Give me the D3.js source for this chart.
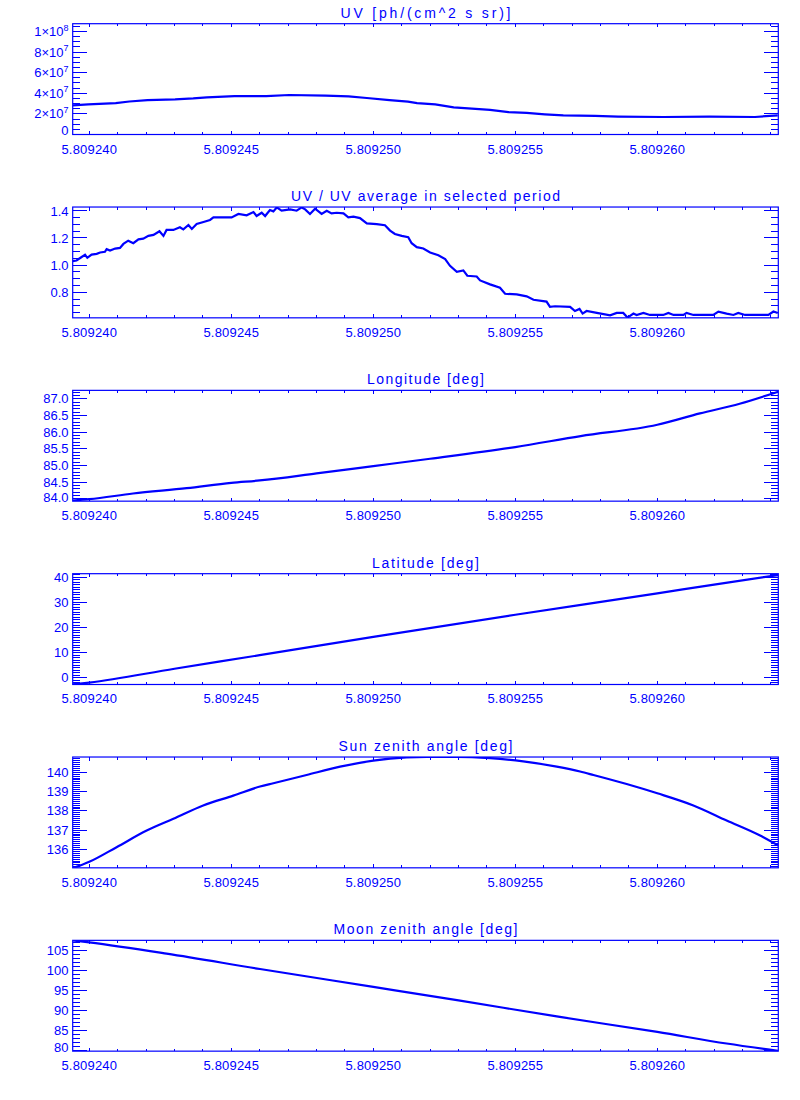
<!DOCTYPE html>
<html><head><meta charset="utf-8">
<script src="https://cdn.jsdelivr.net/npm/d3@7"></script>
<style>
body{margin:0;background:#fff}
text{font-family:"Liberation Sans",Arial,sans-serif;fill:#0000ff}
</style>
</head><body>
<svg id="c" width="800" height="1100"></svg>
<script>
// ---- data ----
// x values are offsets (units of 1e-6) from T0
const T0 = 5.809240;
const xDomainOffsets = [-0.585, 24.26];
const xMajorOffsets = [0, 5, 10, 15, 20];
const xTickLabels = ["5.809240", "5.809245", "5.809250", "5.809255", "5.809260"];

const titles = [
  "UV [ph/(cm^2 s sr)]",
  "UV / UV average in selected period",
  "Longitude [deg]",
  "Latitude [deg]",
  "Sun zenith angle [deg]",
  "Moon zenith angle [deg]"
];

const uvT = [-0.59,-0.04,0.93,1.41,2.05,3.02,3.66,4.14,5.11,6.23,7.04,8.32,9.13,9.77,10.57,11.22,11.54,12.18,12.83,13.47,14.11,14.76,15.40,16.04,16.69,17.81,18.62,20.22,21.83,23.44,24.24];
const uvVal = [2.83e7,2.92e7,3.05e7,3.20e7,3.34e7,3.41e7,3.50e7,3.60e7,3.73e7,3.73e7,3.83e7,3.77e7,3.70e7,3.54e7,3.34e7,3.19e7,3.05e7,2.92e7,2.64e7,2.51e7,2.38e7,2.18e7,2.09e7,1.96e7,1.86e7,1.80e7,1.74e7,1.70e7,1.74e7,1.70e7,1.86e7];

const ratioT = [-0.59,-0.45,-0.27,-0.15,-0.07,0.08,0.26,0.38,0.55,0.61,0.73,0.91,1.08,1.20,1.37,1.55,1.73,1.90,2.08,2.26,2.47,2.61,2.72,2.96,3.19,3.31,3.49,3.61,3.78,4.02,4.25,4.37,4.60,5.01,5.25,5.54,5.78,5.89,6.07,6.19,6.36,6.48,6.60,6.77,7.07,7.30,7.48,7.60,7.77,7.95,8.18,8.36,8.53,8.71,8.95,9.12,9.30,9.53,9.77,10.12,10.41,10.59,10.76,11.00,11.23,11.35,11.53,11.76,12.00,12.29,12.53,12.70,12.94,13.17,13.31,13.64,13.76,14.11,14.46,14.64,15.05,15.40,15.64,16.10,16.22,16.40,16.93,17.10,17.26,17.37,17.51,17.87,18.34,18.57,18.80,18.95,19.16,19.27,19.51,19.74,20.21,20.39,20.57,20.92,21.03,21.27,21.97,22.15,22.44,22.68,22.85,23.09,23.91,24.09,24.24];
const ratioVal = [1.029,1.034,1.060,1.076,1.054,1.078,1.083,1.093,1.098,1.117,1.107,1.122,1.127,1.156,1.180,1.161,1.190,1.195,1.215,1.222,1.249,1.215,1.259,1.259,1.278,1.263,1.295,1.266,1.302,1.317,1.332,1.351,1.351,1.351,1.376,1.366,1.390,1.361,1.385,1.361,1.405,1.395,1.424,1.400,1.410,1.400,1.424,1.410,1.376,1.415,1.376,1.400,1.380,1.385,1.380,1.351,1.356,1.346,1.307,1.302,1.293,1.254,1.229,1.215,1.205,1.161,1.132,1.122,1.093,1.073,1.044,0.995,0.951,0.961,0.922,0.917,0.888,0.859,0.834,0.790,0.785,0.771,0.746,0.732,0.693,0.698,0.693,0.663,0.678,0.644,0.663,0.649,0.632,0.649,0.649,0.615,0.644,0.634,0.649,0.634,0.634,0.649,0.634,0.634,0.649,0.634,0.634,0.659,0.644,0.634,0.649,0.634,0.634,0.659,0.649];

const lonT = [-0.59,0,1.54,3.43,5,6,8,10,12,15,17.3,20,21.5,22.9,24.26];
const lonVal = [83.95,83.99,84.16,84.32,84.48,84.55,84.76,84.98,85.20,85.55,85.88,86.22,86.56,86.85,87.21];

const latT = [-0.59,0,3,6,10,15,20,22,24.26];
const latVal = [-2.6,-1.9,3.6,9.0,16.3,25.1,33.6,37.1,40.9];

const sunT = [-0.59,0,0.96,2.02,2.96,4.01,5.07,6.01,6.48,7.65,8.83,10,11.17,11.88,12.94,14.11,15.28,16.46,17.28,17.75,18.92,20,21.27,22.44,23.62,24.26];
const sunVal = [135.02,135.36,136.12,136.98,137.59,138.28,138.79,139.26,139.43,139.86,140.29,140.60,140.77,140.80,140.80,140.73,140.56,140.29,140.04,139.86,139.39,138.91,138.28,137.50,136.72,136.20];

const moonT = [-0.59,0,2.72,6.01,10,13,16.57,20,22.44,24.26];
const moonVal = [107.6,107.08,104.25,100.4,95.9,92.5,88.35,84.58,81.67,79.8];

// y axes: domains, major ticks, labels, minor step
const yDomains = [[0,1.075e8],[0.613,1.427],[83.93,87.25],[-2.68,41.44],[135.05,140.79],[79.75,107.6]];
const yMajors = [
  [0,2e7,4e7,6e7,8e7,1e8],
  [0.8,1.0,1.2,1.4],
  [84.0,84.5,85.0,85.5,86.0,86.5,87.0],
  [0,10,20,30,40],
  [136,137,138,139,140],
  [80,85,90,95,100,105]
];
const yLabels = [
  ["0","2×10^7","4×10^7","6×10^7","8×10^7","1×10^8"],
  ["0.8","1.0","1.2","1.4"],
  ["84.0","84.5","85.0","85.5","86.0","86.5","87.0"],
  ["0","10","20","30","40"],
  ["136","137","138","139","140"],
  ["80","85","90","95","100","105"]
];
const yMinorSteps = [5e6, 0.05, 0.1, 1, 0.1, 1];
const seriesT = [uvT, ratioT, lonT, latT, sunT, moonT];
const seriesV = [uvVal, ratioVal, lonVal, latVal, sunVal, moonVal];

// ---- layout / style ----
const BLUE = "#0000ff";
const L = 72.7, R = 778.3, TOP0 = 23.7, STEP = 183.33, H = 110.8;
const titleWidths = [170, 269, 117, 107, 174, 184];
const smoothPanel = [false, false, true, true, true, true];

const svg = d3.select("#c");
svg.append("rect").attr("width",800).attr("height",1100).attr("fill","#fff");

const x = d3.scaleLinear().domain(xDomainOffsets).range([L, R]);
const xMinor = d3.range(0, 25);

function minorVals(dom, step){
  const a = Math.ceil(dom[0]/step - 1e-9), b = Math.floor(dom[1]/step + 1e-9);
  const out = [];
  for (let k = a; k <= b; k++) out.push(+(k*step).toPrecision(10));
  return out;
}

titles.forEach((title, i) => {
  const top = TOP0 + i*STEP, bot = top + H;
  const y = d3.scaleLinear().domain(yDomains[i]).range([bot, top]);
  const g = svg.append("g");
  const clipId = "clip"+i;
  svg.append("clipPath").attr("id", clipId).append("rect")
    .attr("x", L).attr("y", top).attr("width", R-L).attr("height", H);

  // data line
  const pts = seriesT[i].map((t, k) => [t, seriesV[i][k]]).filter(p => p[1] !== undefined);
  const line = d3.line().x(d => x(d[0])).y(d => y(d[1]));
  if (smoothPanel[i]) line.curve(d3.curveMonotoneX);
  g.append("path").datum(pts)
    .attr("clip-path", `url(#${clipId})`)
    .attr("fill","none").attr("stroke",BLUE).attr("stroke-width",2.2)
    .attr("d", line);

  // frame
  g.append("rect").attr("x",L).attr("y",top).attr("width",R-L).attr("height",H)
    .attr("fill","none").attr("stroke",BLUE).attr("stroke-width",1.2);

  const tickG = g.append("g").attr("stroke",BLUE).attr("stroke-width",1).attr("shape-rendering","crispEdges");
  // x ticks (top & bottom)
  xMinor.forEach(t => {
    const major = xMajorOffsets.includes(t);
    const len = major ? 3.5 : 2.5;
    const px = x(t);
    tickG.append("line").attr("x1",px).attr("x2",px).attr("y1",bot).attr("y2",bot-len);
    tickG.append("line").attr("x1",px).attr("x2",px).attr("y1",top).attr("y2",top+len);
  });
  // y ticks (left & right)
  const majorsY = yMajors[i];
  minorVals(yDomains[i], yMinorSteps[i]).forEach(v => {
    const major = majorsY.some(m => Math.abs(m - v) < yMinorSteps[i]*1e-3);
    const len = major ? 14 : 7;
    const py = y(v);
    tickG.append("line").attr("x1",L).attr("x2",L+len).attr("y1",py).attr("y2",py);
    tickG.append("line").attr("x1",R).attr("x2",R-len).attr("y1",py).attr("y2",py);
  });

  // y labels
  majorsY.forEach((v, k) => {
    let cy = y(v);
    cy = Math.min(cy, bot - 4);
    cy = Math.max(cy, top + 4);
    const lab = yLabels[i][k];
    const t = g.append("text").attr("x", 68.5).attr("y", cy + 4.6)
      .attr("text-anchor","end").attr("font-size",13);
    const parts = lab.split("^");
    t.append("tspan").text(parts[0]);
    if (parts[1]) t.append("tspan").attr("font-size",9).attr("dy",-5.5).text(parts[1]);
  });

  // x labels
  xMajorOffsets.forEach((t, k) => {
    g.append("text").attr("x", x(t)).attr("y", bot + 19)
      .attr("text-anchor","middle").attr("font-size",13).attr("letter-spacing",0.2)
      .text(xTickLabels[k]);
  });

  // title
  g.append("text").attr("x", (L+R)/2).attr("y", top - 6)
    .attr("text-anchor","middle").attr("font-size",14)
    .attr("textLength", titleWidths[i]).attr("lengthAdjust","spacing")
    .text(title);
});
</script>
</body></html>
